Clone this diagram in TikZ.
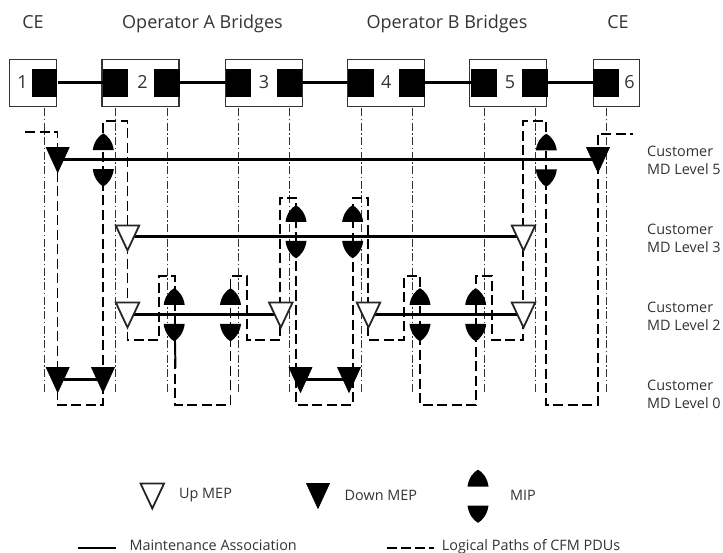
\documentclass[tikz,border=0pt]{standalone}
\usepackage{fontspec}
\setmainfont{Open Sans}
\usetikzlibrary{shapes.geometric}
\definecolor{ink}{HTML}{333333}
\tikzset{
  x=1pt,y=-1pt,
  txt/.style={font=\fontsize{18}{20}\selectfont,text=ink,inner sep=0pt,anchor=base},
  small/.style={font=\fontsize{14.4}{18}\selectfont,text=ink,inner sep=0pt,align=left},
  bridge/.style={draw=ink,line width=1.2pt,fill=white,minimum height=47.5pt,inner sep=0pt},
  port/.style={fill=black,minimum width=25.5pt,minimum height=28pt,inner sep=0pt},
  link/.style={line width=3pt,black},
  ma/.style={line width=3pt,black},
  guide/.style={line width=1pt,black!80,dash pattern=on 8pt off 2.5pt on 1.5pt off 2.5pt},
  cfm/.style={line width=1.9pt,black,dash pattern=on 10pt off 4.5pt,line join=miter},
  tri/.style={isosceles triangle,isosceles triangle apex angle=50,isosceles triangle stretches,
    shape border rotate=-90,minimum width=23pt,minimum height=25pt,inner sep=0pt,outer sep=0pt,anchor=apex},
  down/.style={tri,draw=black,fill=black,line width=.6pt},
  up/.style={tri,draw=black!85,fill=white,line width=1.8pt,minimum width=23.5pt,minimum height=25pt},
  mip/.pic={
    \fill[black] (-10.5,-9.5) .. controls (-9.5,-18) and (-4.5,-24) .. (0,-26.3) .. controls (4.5,-24) and (9.5,-18) .. (10.5,-9.5) -- cycle;
    \fill[black] (-10.5,9.5) .. controls (-9.5,18) and (-4.5,24.5) .. (0,26.8) .. controls (4.5,24.5) and (9.5,18) .. (10.5,9.5) -- cycle;
    \coordinate (-c) at (0,0);
  }
}
\begin{document}
\begin{tikzpicture}
\useasboundingbox (0,0) rectangle (723,553);
% columns of the logical path
\foreach \n/\v in {a/57.5,b/103.3,c/127.5,d/159,e/175,f/230.5,g/246.6,h/280,i/296,j/352.7,k/368.3,l/404,m/420,n/475.7,o/492,p/523.3,q/546,r/597.7,s/25,t/633}
  \coordinate (x\n) at (\v,0);
\foreach \n/\v in {top/121,ce/132,cf/134,mid/198,up/276,low/340,bot/405}
  \coordinate (y\n) at (0,\v);
% titles
\node[txt] at (33,28.3) {CE};
\node[txt] at (202.5,28.3) {Operator A Bridges};
\node[txt] at (447,28.3) {Operator B Bridges};
\node[txt] at (618,28.3) {CE};
% bridges
\node[bridge,minimum width=46.5pt] (b1) at (33,83) {};
\node[bridge,minimum width=77pt] (b2) at (140.5,83) {};
\node[bridge,minimum width=77pt] (b3) at (264,83) {};
\node[bridge,minimum width=77pt] (b4) at (386,83) {};
\node[bridge,minimum width=77pt] (b5) at (508,83) {};
\node[bridge,minimum width=46.5pt] (b6) at (616.5,83) {};
\foreach \n/\v in {1r/44.7,2l/115.5,2r/167,3l/238.5,3r/289.5,4l/361,4r/412,5l/484,5r/535,6l/606}
  \node[port] (p\n) at (\v,83) {};
\node[txt] at (22.5,88.5) {1};
\node[txt] at (142.5,88.5) {2};
\node[txt] at (264,88.5) {3};
\node[txt] at (386.3,88.5) {4};
\node[txt] at (510,88.5) {5};
\node[txt] at (629.5,88.5) {6};
\draw[link] (p1r) -- (p2l);
\draw[link] (p2r) -- (p3l);
\draw[link] (p3r) -- (p4l);
\draw[link] (p4r) -- (p5l);
\draw[link] (p5r) -- (p6l);
% guides
\foreach \n in {1r,2l,2r,3l,3r,4l,4r,5l,5r,6l}{
  \path (p\n.south) ++(0,11) coordinate (gt) ++(0,285) coordinate (gb);
  \draw[guide] (gt) -- (gb);
}
% logical path
\coordinate (start) at (xs|-yce);
\coordinate (stop) at (xt|-ycf);
\draw[cfm] (start) -- (xa|-yce) -- (xa|-ybot) -- (xb|-ybot) -- (xb|-ytop) -- (xc|-ytop) -- (xc|-ylow) -- (xd|-ylow) -- (xd|-yup) -- (xe|-yup) -- (xe|-ybot) -- (xf|-ybot) -- (xf|-yup) -- (xg|-yup) -- (xg|-ylow) -- (xh|-ylow) -- (xh|-ymid) -- (xi|-ymid) -- (xi|-ybot) -- (xj|-ybot) -- (xj|-ymid) -- (xk|-ymid) -- (xk|-ylow) -- (xl|-ylow) -- (xl|-yup) -- (xm|-yup) -- (xm|-ybot) -- (xn|-ybot) -- (xn|-yup) -- (xo|-yup) -- (xo|-ylow) -- (xp|-ylow) -- (xp|-ytop) -- (xq|-ytop) -- (xq|-ybot) -- (xr|-ybot) -- (xr|-ycf) -- (stop);
% maintenance associations
\coordinate (L5a) at (60,160); \coordinate (L5b) at (597,160);
\coordinate (L3a) at (127,236.7); \coordinate (L3b) at (523,236.7);
\coordinate (L2a) at (127,314.7); \coordinate (L2b) at (280,314.7);
\coordinate (L2c) at (368,314.7); \coordinate (L2d) at (523,314.7);
\coordinate (L0a) at (57,379.3); \coordinate (L0b) at (103,379.3);
\coordinate (L0c) at (300,379.3); \coordinate (L0d) at (349,379.3);
\draw[ma] (L5a) -- (L5b);
\draw[ma] (L3a) -- (L3b);
\draw[ma] (L2a) -- (L2b);
\draw[ma] (L2c) -- (L2d);
\draw[ma] (L0a) -- (L0b);
\draw[ma] (L0c) -- (L0d);
\coordinate (stubA) at (175,340); \coordinate (stubB) at (175.5,368);
\draw[line width=1.9pt] (stubA) -- (stubB);
% MEPs
\node[down] (m1) at (57.7,172.5) {};
\node[down] (m2) at (598,172.5) {};
\node[up] (m3) at (127.5,250.5) {};
\node[up] (m4) at (523.5,250.5) {};
\node[up] (m5) at (127.5,327.5) {};
\node[up] (m6) at (280.8,327.5) {};
\node[up] (m7) at (368.5,327.5) {};
\node[up] (m8) at (523.5,327.5) {};
\node[down] (m9) at (57.7,392.5) {};
\node[down] (m10) at (103,392.5) {};
\node[down] (m11) at (300.5,392.5) {};
\node[down] (m12) at (349,392.5) {};
% MIPs
\pic (i1) at (103.3,159.7) {mip};
\pic (i2) at (546.3,160) {mip};
\pic (i3) at (296,231.5) {mip};
\pic (i4) at (352.7,231.5) {mip};
\pic (i5) at (174.2,314.5) {mip};
\pic (i6) at (230.5,314.5) {mip};
\pic (i7) at (420,314.5) {mip};
\pic (i8) at (475.7,314.5) {mip};
% level labels
\node[small,anchor=west] at (647,160) {Customer\\MD Level 5};
\node[small,anchor=west] at (647,238) {Customer\\MD Level 3};
\node[small,anchor=west] at (647,316) {Customer\\MD Level 2};
\node[small,anchor=west] at (647,394) {Customer\\MD Level 0};
% legend
\node[up] (k1) at (152.3,508.5) {};
\node[small,anchor=west] at (179,495) {Up MEP};
\node[down] (k2) at (318,508.5) {};
\node[small,anchor=west] at (344.5,495) {Down MEP};
\pic (k3) at (478,496) {mip};
\node[small,anchor=west] at (510,495) {MIP};
\coordinate (k4a) at (78,548); \coordinate (k4b) at (116,548);
\draw[line width=1.9pt] (k4a) -- (k4b);
\node[small,anchor=base west] (k4) at (129.3,550) {Maintenance Association};
\coordinate (k5a) at (387,548); \coordinate (k5b) at (434,548);
\draw[cfm,dash pattern=on 10pt off 4pt] (k5a) -- (k5b);
\node[small,anchor=base west] (k5) at (441.7,550) {Logical Paths of CFM PDUs};
\end{tikzpicture}
\end{document}
